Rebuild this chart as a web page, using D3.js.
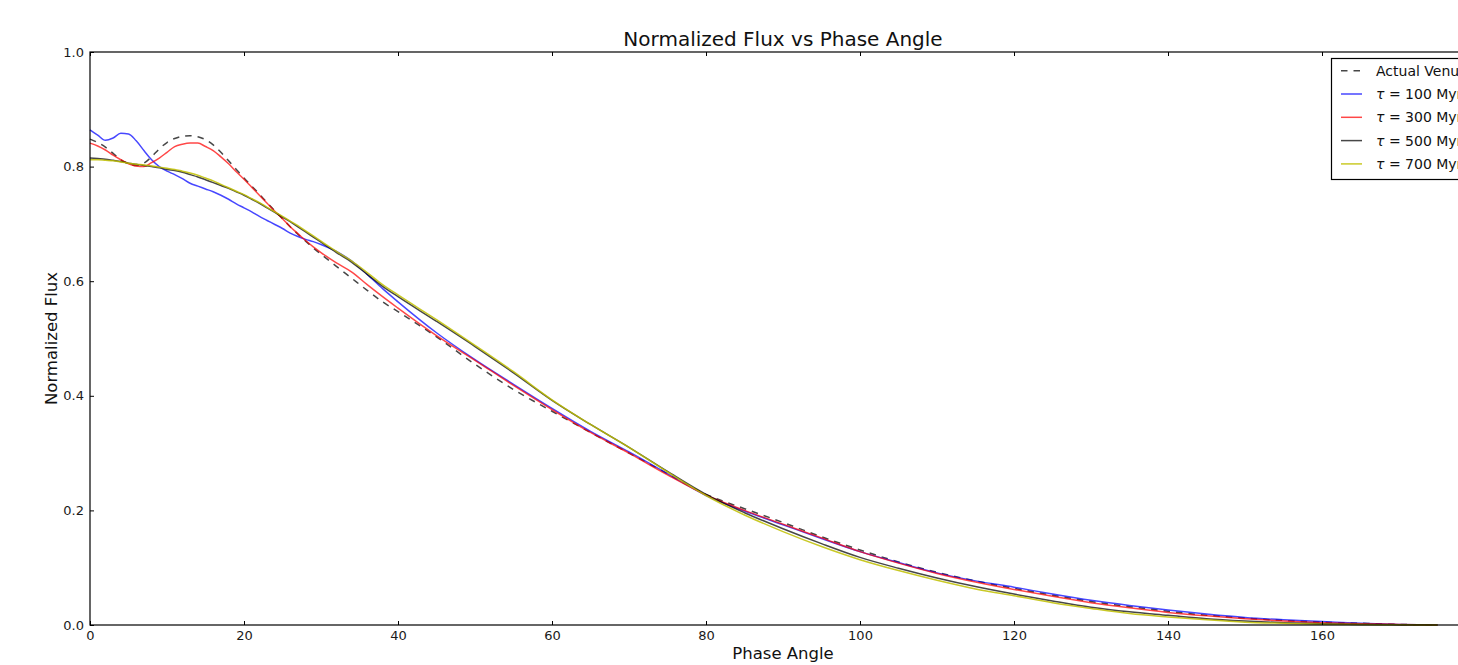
<!DOCTYPE html>
<html>
<head>
<meta charset="utf-8">
<script src="https://cdn.jsdelivr.net/npm/d3@7"></script>
<style>
  html, body { margin: 0; padding: 0; background: #fff; overflow: hidden; }
  svg { display: block; font-family: "DejaVu Sans", sans-serif; }
</style>
</head>
<body>
<svg id="chart" width="1458" height="665"></svg>
<script>
// ---- data ----
const phase = [0,1,2,3,4,5,6,7,8,9,10,11,12,13,14,15,16,17,18,19,20,21,22,23,24,25,26,27,28,29,30,
  32,34,36,38,40,45,50,55,60,65,70,75,80,85,90,95,100,105,110,115,120,125,130,135,140,145,150,155,160,165,170,175];

const actualVenus = [0.848,0.842,0.834,0.823,0.812,0.805,0.802,0.806,0.817,0.831,0.842,0.849,0.853,0.854,0.852,0.847,0.838,0.825,0.810,0.795,0.780,0.766,0.752,0.737,0.723,0.709,0.695,0.682,0.670,0.658,0.647,
  0.626,0.605,0.584,0.564,0.547,0.503,0.455,0.411,0.373,0.336,0.300,0.264,0.228,0.203,0.179,0.154,0.131,0.110,0.092,0.077,0.064,0.052,0.041,0.032,0.024,0.017,0.012,0.008,0.005,0.003,0.001,0.000];

const tau100 = [0.864,0.855,0.846,0.850,0.858,0.857,0.845,0.828,0.812,0.800,0.792,0.786,0.779,0.771,0.766,0.761,0.756,0.750,0.743,0.735,0.728,0.721,0.713,0.706,0.699,0.692,0.684,0.678,0.673,0.669,0.664,
  0.652,0.635,0.612,0.587,0.564,0.510,0.463,0.420,0.378,0.338,0.302,0.264,0.226,0.199,0.175,0.151,0.128,0.109,0.091,0.077,0.066,0.054,0.043,0.034,0.026,0.019,0.013,0.009,0.006,0.003,0.001,0.000];

const tau300 = [0.841,0.836,0.829,0.820,0.812,0.805,0.801,0.800,0.807,0.815,0.825,0.835,0.839,0.841,0.841,0.835,0.828,0.817,0.805,0.791,0.778,0.764,0.750,0.736,0.722,0.709,0.695,0.683,0.671,0.660,0.650,
  0.632,0.616,0.594,0.573,0.553,0.505,0.462,0.418,0.376,0.336,0.300,0.262,0.227,0.200,0.176,0.152,0.128,0.108,0.090,0.075,0.062,0.050,0.039,0.030,0.022,0.016,0.011,0.007,0.004,0.002,0.001,0.000];

const tau500 = [0.815,0.814,0.813,0.811,0.809,0.806,0.804,0.802,0.800,0.798,0.795,0.793,0.790,0.786,0.782,0.777,0.772,0.767,0.762,0.756,0.750,0.743,0.736,0.728,0.720,0.712,0.704,0.695,0.686,0.677,0.668,
  0.650,0.633,0.612,0.591,0.573,0.530,0.486,0.440,0.392,0.350,0.310,0.268,0.228,0.196,0.168,0.142,0.118,0.099,0.082,0.067,0.054,0.042,0.031,0.023,0.017,0.011,0.007,0.004,0.002,0.001,0.0005,0.000];

const tau700 = [0.812,0.812,0.811,0.810,0.808,0.806,0.804,0.803,0.801,0.799,0.797,0.795,0.792,0.789,0.785,0.780,0.775,0.769,0.763,0.757,0.751,0.744,0.737,0.729,0.721,0.713,0.705,0.697,0.688,0.679,0.670,
  0.652,0.635,0.615,0.594,0.576,0.533,0.488,0.442,0.393,0.350,0.310,0.267,0.226,0.192,0.163,0.137,0.114,0.095,0.078,0.063,0.051,0.039,0.029,0.020,0.014,0.009,0.005,0.003,0.0015,0.0008,0.0003,0.000];

const seriesNames = ["Actual Venus", "100 Myr", "300 Myr", "500 Myr", "700 Myr"];
const xTicks = [0,20,40,60,80,100,120,140,160];
const yTicks = [0.0,0.2,0.4,0.6,0.8,1.0];

// ---- layout ----
const svg = d3.select("#chart");
const L = 90, R = 1476, T = 52, B = 625;
const x = d3.scaleLinear().domain([0,180]).range([L,R]);
const y = d3.scaleLinear().domain([0,1]).range([B,T]);

const styles = [
  {data: actualVenus, color: "#000", opacity: 0.72, dash: "6.5,6"},
  {data: tau100, color: "#0000ff", opacity: 0.72, dash: null},
  {data: tau300, color: "#ff0000", opacity: 0.72, dash: null},
  {data: tau500, color: "#000000", opacity: 0.72, dash: null},
  {data: tau700, color: "#bfbf00", opacity: 0.85, dash: null}
];

const line = d3.line().x(d => x(d[0])).y(d => y(d[1])).curve(d3.curveMonotoneX);

styles.forEach(s => {
  svg.append("path")
    .datum(phase.map((p,i) => [p, s.data[i]]))
    .attr("d", line)
    .attr("fill", "none")
    .attr("stroke", s.color)
    .attr("stroke-opacity", s.opacity)
    .attr("stroke-width", 1.5)
    .attr("stroke-dasharray", s.dash);
});

// ---- axes (inward ticks, matplotlib style) ----
function styleAxis(g) {
  g.select(".domain").remove();
  g.selectAll(".tick line").attr("stroke", "#000").attr("stroke-width", 1);
  g.selectAll(".tick text").attr("fill", "#1a1a1a").style("font-size", "13px")
    .style("font-family", "'DejaVu Sans', sans-serif");
}
const fmtY = d3.format(".1f");
svg.append("g").attr("transform", `translate(0,${B})`)
  .call(d3.axisBottom(x).tickValues(xTicks).tickFormat(d3.format("d")).tickSizeInner(-4).tickSizeOuter(0).tickPadding(6))
  .call(styleAxis);
svg.append("g").attr("transform", `translate(0,${T})`)
  .call(d3.axisTop(x).tickValues(xTicks).tickFormat("").tickSizeInner(-4).tickSizeOuter(0))
  .call(styleAxis);
svg.append("g").attr("transform", `translate(${L},0)`)
  .call(d3.axisLeft(y).tickValues(yTicks).tickFormat(fmtY).tickSizeInner(-4).tickSizeOuter(0).tickPadding(6))
  .call(styleAxis);
svg.append("g").attr("transform", `translate(${R},0)`)
  .call(d3.axisRight(y).tickValues(yTicks).tickFormat("").tickSizeInner(-4).tickSizeOuter(0))
  .call(styleAxis);

// frame
svg.append("rect").attr("x", L).attr("y", T).attr("width", R - L).attr("height", B - T)
  .attr("fill", "none").attr("stroke", "#000").attr("stroke-width", 1.2);

// ---- titles ----
svg.append("text").attr("x", (L + R) / 2).attr("y", 46).attr("text-anchor", "middle")
  .style("font-size", "20px").attr("fill", "#111").text("Normalized Flux vs Phase Angle");
svg.append("text").attr("x", (L + R) / 2).attr("y", 659).attr("text-anchor", "middle")
  .style("font-size", "16.5px").attr("fill", "#111").text("Phase Angle");
svg.append("text").attr("transform", `translate(57,${(T + B) / 2}) rotate(-90)`).attr("text-anchor", "middle")
  .style("font-size", "16.5px").attr("fill", "#111").text("Normalized Flux");

// ---- legend ----
const lg = svg.append("g");
lg.append("rect").attr("x", 1331.5).attr("y", 58.5).attr("width", 200).attr("height", 121)
  .attr("fill", "#fff").attr("stroke", "#000").attr("stroke-width", 1.2);
styles.forEach((s, i) => {
  const yy = 70.7 + i * 23.3;
  lg.append("line").attr("x1", 1341).attr("x2", 1362).attr("y1", yy).attr("y2", yy)
    .attr("stroke", s.color).attr("stroke-opacity", s.opacity).attr("stroke-width", 1.5)
    .attr("stroke-dasharray", s.dash);
  const t = lg.append("text").attr("x", 1376).attr("y", yy).attr("dy", "0.35em")
    .style("font-size", "14px").attr("fill", "#111");
  if (i === 0) {
    t.text(seriesNames[i]);
  } else {
    t.append("tspan").style("font-style", "italic").text("τ");
    t.append("tspan").text(" = " + seriesNames[i]);
  }
});
</script>
</body>
</html>
